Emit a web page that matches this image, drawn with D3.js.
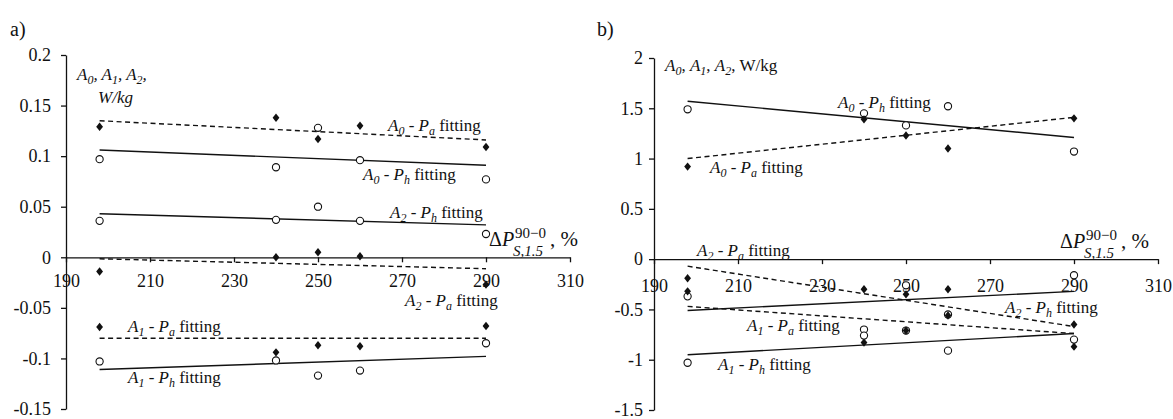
<!DOCTYPE html>
<html>
<head>
<meta charset="utf-8">
<script src="https://cdn.jsdelivr.net/npm/d3@7/dist/d3.min.js"></script>
<style>
  body { margin: 0; background: #fff; }
  svg { display: block; }
  text { font-family: "Liberation Serif", "Times New Roman", serif; fill: #111; }
  .axis path, .axis line { stroke: #111; stroke-width: 1.3; }
  .axis text { font-size: 18px; font-family: "Liberation Serif", serif; fill: #111; }
</style>
</head>
<body>
<div id="chart"></div>
<script>
// x positions (ΔP_S,1.5^90-0, %) shared by both panels
var xVals = [198, 240, 250, 260, 290];
var xTicks = [190, 210, 230, 250, 270, 290, 310];
var fitX = [198, 290];

// panel a) values
var aYTicks = [-0.15, -0.1, -0.05, 0, 0.05, 0.1, 0.15, 0.2];
var aA0Pa = [0.129, 0.138, 0.117, 0.130, 0.109];
var aA0Ph = [0.097, 0.089, 0.128, 0.096, 0.077];
var aA2Ph = [0.036, 0.037, 0.050, 0.036, 0.023];
var aA2Pa = [-0.014, 0.0, 0.005, 0.001, -0.027];
var aA1Pa = [-0.069, -0.094, -0.087, -0.088, -0.068];
var aA1Ph = [-0.103, -0.102, -0.117, -0.112, -0.085];
// fitted lines (value at 198 and 290)
var aFitA0Pa = [0.135, 0.116];
var aFitA0Ph = [0.106, 0.091];
var aFitA2Ph = [0.043, 0.032];
var aFitA2Pa = [-0.0015, -0.0113];
var aFitA1Pa = [-0.080, -0.080];
var aFitA1Ph = [-0.111, -0.098];

// panel b) values
var bYTicks = [-1.5, -1, -0.5, 0, 0.5, 1, 1.5, 2];
var bA0Pa = [0.92, 1.39, 1.23, 1.10, 1.40];
var bA0Ph = [1.49, 1.45, 1.33, 1.52, 1.07];
var bA2Pa = [-0.19, -0.30, -0.35, -0.56, -0.65];
var bA1Pa = [-0.32, -0.83, -0.71, -0.30, -0.87];
var bA2Ph = [-0.37, -0.70, -0.26, -0.55, -0.16];
var bA1Ph = [-1.03, -0.76, -0.71, -0.91, -0.80];
var bFitA0Ph = [1.57, 1.21];
var bFitA0Pa = [1.00, 1.41];
var bFitA2Pa = [-0.07, -0.67];
var bFitA1Pa = [-0.47, -0.74];
var bFitA2Ph = [-0.51, -0.32];
var bFitA1Ph = [-0.95, -0.74];

var width = 1173, height = 419;

var svg = d3.select("#chart").append("svg")
    .attr("width", width)
    .attr("height", height);

// label text like "A0 - Pa fitting"
function fitLabel(g, x, y, idx, p) {
    var t = g.append("text").attr("x", x).attr("y", y).style("font-size", "17px");
    t.append("tspan").style("font-style", "italic").text("A");
    t.append("tspan").style("font-style", "italic").style("font-size", "12px").attr("dy", 4).text(idx);
    t.append("tspan").attr("dy", -4).text(" - ");
    t.append("tspan").style("font-style", "italic").text("P");
    t.append("tspan").style("font-style", "italic").style("font-size", "12px").attr("dy", 4).text(p);
    t.append("tspan").attr("dy", -4).text(" fitting");
}

function deltaLabel(g, x, y) {
    var main = g.append("text").attr("x", x).attr("y", y).style("font-size", "20px");
    main.append("tspan").text("\u0394");
    main.append("tspan").style("font-style", "italic").text("P");
    var w = main.node().getComputedTextLength();
    var sup = g.append("text").attr("x", x + w + 1).attr("y", y - 8)
        .style("font-size", "15px").text("90\u22120");
    var sub = g.append("text").attr("x", x + w - 1).attr("y", y + 9.5)
        .style("font-size", "15px").style("font-style", "italic").text("S,1.5");
    var w2 = Math.max(sup.node().getComputedTextLength() + 2, sub.node().getComputedTextLength());
    g.append("text").attr("x", x + w + w2 + 3).attr("y", y)
        .style("font-size", "21px").text(", %");
}

function drawPanel(p) {
    var g = svg.append("g");
    var x = d3.scaleLinear().domain([190, 310]).range(p.xRange);
    var y = d3.scaleLinear().domain(p.yDomain).range(p.yRange);

    g.append("g").attr("class", "axis")
        .attr("transform", "translate(" + x(190) + ",0)")
        .call(d3.axisLeft(y).tickValues(p.yTicks).tickSize(5).tickSizeOuter(0)
            .tickPadding(p.yPad).tickFormat(function (d) { return String(d); }));

    g.append("g").attr("class", "axis")
        .attr("transform", "translate(0," + y(0) + ")")
        .call(d3.axisBottom(x).tickValues(xTicks).tickSize(5).tickSizeOuter(0)
            .tickPadding(p.xPad).tickFormat(d3.format("d")));

    var line = d3.line()
        .x(function (d) { return x(d[0]); })
        .y(function (d) { return y(d[1]); });

    p.series.forEach(function (s) {
        g.append("path")
            .datum(d3.zip(fitX, s.fit))
            .attr("d", line)
            .attr("fill", "none")
            .attr("stroke", "#111")
            .attr("stroke-width", 1.4)
            .attr("stroke-dasharray", s.marker === "diamond" ? "5,3.5" : null);
    });

    // open circles first, diamonds on top
    p.series.filter(function (s) { return s.marker === "circle"; }).forEach(function (s) {
        g.selectAll(null).data(d3.zip(xVals, s.vals)).enter()
            .append("circle")
            .attr("cx", function (d) { return x(d[0]); })
            .attr("cy", function (d) { return y(d[1]); })
            .attr("r", 3.6)
            .attr("fill", "#fff")
            .attr("stroke", "#111")
            .attr("stroke-width", 1.1);
    });
    p.series.filter(function (s) { return s.marker === "diamond"; }).forEach(function (s) {
        g.selectAll(null).data(d3.zip(xVals, s.vals)).enter()
            .append("path")
            .attr("d", "M0,-4.2L3.4,0L0,4.2L-3.4,0Z")
            .attr("transform", function (d) { return "translate(" + x(d[0]) + "," + y(d[1]) + ")"; })
            .attr("fill", "#111");
    });

    p.labels.forEach(function (l) { fitLabel(g, l[0], l[1], l[2], l[3]); });
    deltaLabel(g, p.delta[0], p.delta[1]);

    g.append("text").attr("x", p.tag[0]).attr("y", p.tag[1])
        .style("font-size", "20px").text(p.tag[2]);
    return g;
}

var ga = drawPanel({
    xRange: [66, 570], yDomain: [-0.15, 0.2], yRange: [409, 55], yTicks: aYTicks,
    yPad: 10, xPad: 12,
    series: [
        { vals: aA0Pa, fit: aFitA0Pa, marker: "diamond" },
        { vals: aA0Ph, fit: aFitA0Ph, marker: "circle" },
        { vals: aA2Ph, fit: aFitA2Ph, marker: "circle" },
        { vals: aA2Pa, fit: aFitA2Pa, marker: "diamond" },
        { vals: aA1Pa, fit: aFitA1Pa, marker: "diamond" },
        { vals: aA1Ph, fit: aFitA1Ph, marker: "circle" }
    ],
    labels: [
        [388, 131, "0", "a"], [363, 180, "0", "h"], [390, 218, "2", "h"],
        [405, 306, "2", "a"], [128, 332, "1", "a"], [128, 383, "1", "h"]
    ],
    delta: [489, 246],
    tag: [10, 36, "a)"]
});

// y title a)
var ta = ga.append("text").attr("x", 77).attr("y", 80).style("font-size", "17px").style("font-style", "italic");
["0", "1", "2"].forEach(function (k) {
    ta.append("tspan").text("A");
    ta.append("tspan").style("font-size", "12px").attr("dy", 4).text(k);
    ta.append("tspan").attr("dy", -4).text(", ");
});
ga.append("text").attr("x", 98).attr("y", 103).style("font-size", "17px").style("font-style", "italic").text("W/kg");

var gb = drawPanel({
    xRange: [654, 1158], yDomain: [-1.5, 2], yRange: [410, 58], yTicks: bYTicks,
    yPad: 6, xPad: 15,
    series: [
        { vals: bA0Pa, fit: bFitA0Pa, marker: "diamond" },
        { vals: bA0Ph, fit: bFitA0Ph, marker: "circle" },
        { vals: bA2Pa, fit: bFitA2Pa, marker: "diamond" },
        { vals: bA1Pa, fit: bFitA1Pa, marker: "diamond" },
        { vals: bA2Ph, fit: bFitA2Ph, marker: "circle" },
        { vals: bA1Ph, fit: bFitA1Ph, marker: "circle" }
    ],
    labels: [
        [838, 108, "0", "h"], [710, 173, "0", "a"], [697, 256, "2", "a"],
        [1005, 313, "2", "h"], [747, 331, "1", "a"], [718, 370, "1", "h"]
    ],
    delta: [1060, 248],
    tag: [597, 36, "b)"]
});

// y title b)
var tb = gb.append("text").attr("x", 665).attr("y", 71).style("font-size", "17px");
["0", "1", "2"].forEach(function (k) {
    tb.append("tspan").style("font-style", "italic").text("A");
    tb.append("tspan").style("font-style", "italic").style("font-size", "12px").attr("dy", 4).text(k);
    tb.append("tspan").attr("dy", -4).text(", ");
});
tb.append("tspan").text("W/kg");
</script>
</body>
</html>
